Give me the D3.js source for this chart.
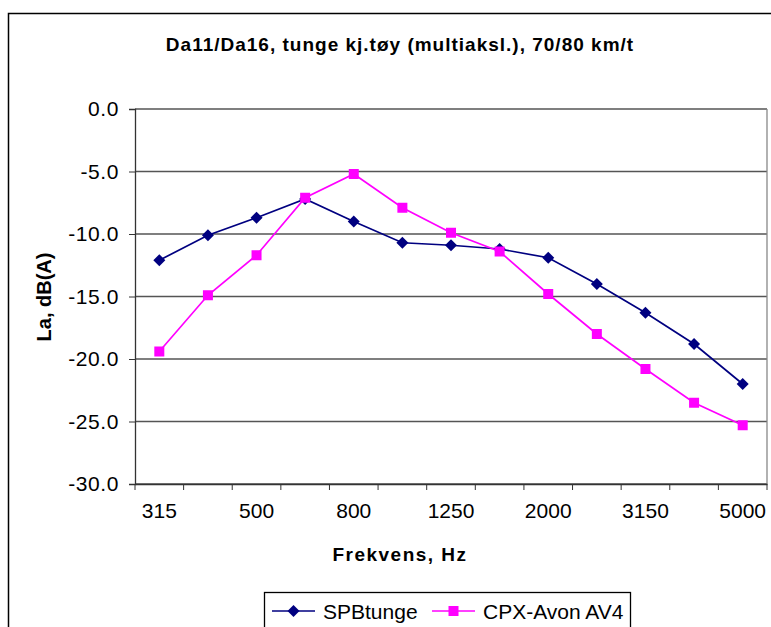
<!DOCTYPE html>
<html><head><meta charset="utf-8">
<script src="https://cdn.jsdelivr.net/npm/d3@7"></script>
<style>body{margin:0;background:#fff}svg{display:block}text{font-family:Arial,"Liberation Sans",sans-serif}</style>
</head><body><svg id="c" width="771" height="627"></svg>
<script>
const categories = ["315","400","500","630","800","1000","1250","1600","2000","2500","3150","4000","5000"];
const tickLabels = ["315","500","800","1250","2000","3150","5000"];
const spbTunge = [-12.1,-10.1,-8.7,-7.2,-9.0,-10.7,-10.9,-11.2,-11.9,-14.0,-16.3,-18.8,-22.0];
const cpxAvon = [-19.4,-14.9,-11.7,-7.1,-5.2,-7.9,-9.9,-11.4,-14.8,-18.0,-20.8,-23.5,-25.3];
const yTicks = [0,-5,-10,-15,-20,-25,-30];
const seriesNames = ["SPBtunge","CPX-Avon AV4"];
const title = "Da11/Da16, tunge kj.tøy (multiaksl.), 70/80 km/t";

const svg = d3.select("#c");
svg.append("rect").attr("x",8.5).attr("y",13.5).attr("width",780).attr("height",630)
  .attr("fill","#fff").attr("stroke","#000").attr("stroke-width",1.5);

const L=135, R=767, T=109, B=484;
const x = d3.scaleBand().domain(categories).range([L,R]);
const y = d3.scaleLinear().domain([-30,0]).range([B,T]);

svg.append("g").selectAll("line").data(yTicks).join("line")
  .attr("x1",L).attr("x2",R).attr("y1",d=>y(d)).attr("y2",d=>y(d))
  .attr("stroke","#555").attr("stroke-width",1.3);
svg.append("line").attr("x1",R).attr("x2",R).attr("y1",T).attr("y2",B).attr("stroke","#888").attr("stroke-width",1.3);

const yAxis = d3.axisLeft(y).tickValues(yTicks).tickSize(6).tickFormat(d=>d3.format(".1f")(d).replace("\u2212","-"));
const gy = svg.append("g").attr("transform",`translate(${L},0)`).call(yAxis);
gy.select(".domain").attr("stroke","#333").attr("stroke-width",1.3);
gy.selectAll(".tick line").attr("stroke","#333");
gy.selectAll("text").attr("font-size",21).attr("fill","#000").attr("x",-16).attr("letter-spacing",0.6);

const xAxis = d3.axisBottom(x).tickSize(0).tickFormat(d=> tickLabels.includes(d)?d:"");
const gx = svg.append("g").attr("transform",`translate(0,${B})`).call(xAxis);
gx.select(".domain").attr("stroke","#333").attr("stroke-width",1.3);
gx.selectAll("text").attr("font-size",21).attr("fill","#000").attr("dy","0").attr("y",34);
const bounds = categories.map(c=>x(c)).concat([R]);
gx.selectAll("line.b").data(bounds).join("line").attr("class","b")
  .attr("x1",d=>d).attr("x2",d=>d).attr("y1",0).attr("y2",6).attr("stroke","#333");

const cx = c => x(c)+x.bandwidth()/2;
const line = d3.line().x((d,i)=>cx(categories[i])).y(d=>y(d));
const diamond = "M0,-6L6,0L0,6L-6,0Z";

svg.append("path").datum(spbTunge).attr("d",line).attr("fill","none").attr("stroke","#000080").attr("stroke-width",1.7);
svg.append("g").selectAll("path").data(spbTunge).join("path")
  .attr("d",diamond)
  .attr("transform",(d,i)=>`translate(${cx(categories[i])},${y(d)})`).attr("fill","#000080");

svg.append("path").datum(cpxAvon).attr("d",line).attr("fill","none").attr("stroke","#ff00ff").attr("stroke-width",1.7);
svg.append("g").selectAll("rect").data(cpxAvon).join("rect")
  .attr("x",(d,i)=>cx(categories[i])-5).attr("y",d=>y(d)-5).attr("width",10).attr("height",10).attr("fill","#ff00ff");

svg.append("text").attr("x",400).attr("y",51).attr("text-anchor","middle").attr("font-size",19).attr("font-weight","bold").attr("letter-spacing",1).text(title);
svg.append("text").attr("transform","translate(51,297) rotate(-90)").attr("text-anchor","middle").attr("font-size",20).attr("font-weight","bold").text("La, dB(A)");
svg.append("text").attr("x",400).attr("y",561).attr("text-anchor","middle").attr("font-size",19).attr("font-weight","bold").attr("letter-spacing",1.5).text("Frekvens, Hz");

// legend
const lg = svg.append("g");
lg.append("rect").attr("x",264.5).attr("y",592.5).attr("width",366).attr("height",60).attr("fill","#fff").attr("stroke","#000").attr("stroke-width",1.3);
const items = [{name:seriesNames[0],color:"#000080",shape:"d",x0:272},{name:seriesNames[1],color:"#ff00ff",shape:"s",x0:432}];
items.forEach(it=>{
  const ly=611;
  lg.append("line").attr("x1",it.x0).attr("x2",it.x0+43).attr("y1",ly).attr("y2",ly).attr("stroke",it.color).attr("stroke-width",1.7);
  if(it.shape==="d") lg.append("path").attr("d",diamond).attr("transform",`translate(${it.x0+21.5},${ly})`).attr("fill",it.color);
  else lg.append("rect").attr("x",it.x0+16.5).attr("y",ly-5).attr("width",10).attr("height",10).attr("fill",it.color);
  lg.append("text").attr("x",it.x0+51).attr("y",ly+7.5).attr("font-size",21).text(it.name);
});
</script></body></html>
